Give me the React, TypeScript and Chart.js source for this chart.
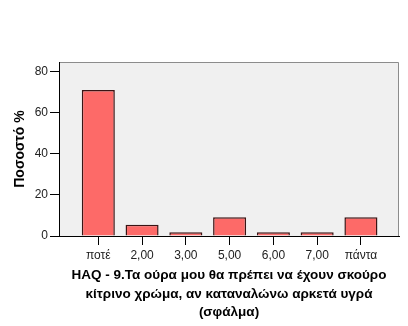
import React, { useEffect, useRef } from "react";
import { Chart, registerables } from "chart.js";

Chart.register(...registerables);

const categories = ["ποτέ", "2,00", "3,00", "5,00", "6,00", "7,00", "πάντα"];
const percents = [70.9, 5.5, 1.8, 9.1, 1.8, 1.8, 9.1];
const yTicks = [0, 20, 40, 60, 80];
const xTitle = [
  "HAQ - 9.Τα ούρα μου θα πρέπει να έχουν σκούρο",
  "κίτρινο χρώμα, αν καταναλώνω αρκετά υγρά",
  "(σφάλμα)",
];
const yTitle = "Ποσοστό %";

const FONT = "'Liberation Sans', Arial, sans-serif";

const plotBg = {
  id: "plotBg",
  beforeDraw(chart: any) {
    const { ctx, chartArea: a } = chart;
    ctx.save();
    ctx.fillStyle = "#f0f0f0";
    ctx.fillRect(a.left, a.top, a.right - a.left, a.bottom - a.top);
    ctx.strokeStyle = "#8c8c8c";
    ctx.lineWidth = 1;
    ctx.beginPath();
    ctx.moveTo(a.left, a.top + 0.5);
    ctx.lineTo(a.right - 0.5, a.top + 0.5);
    ctx.lineTo(a.right - 0.5, a.bottom);
    ctx.stroke();
    ctx.restore();
  },
};

export default function App() {
  const ref = useRef<HTMLCanvasElement>(null);
  useEffect(() => {
    document.body.style.margin = "0";
    const chart = new Chart(ref.current!, {
      type: "bar",
      data: {
        datasets: [
          {
            data: percents.map((v, i) => ({ x: i, y: v })),
            backgroundColor: "#fd6a68",
            borderColor: "#3a1414",
            borderWidth: 1.5,
            barPercentage: 0.755,
            categoryPercentage: 1,
          },
        ],
      },
      options: {
        responsive: false,
        animation: false,
        layout: { padding: { top: 62, right: 9, left: 0, bottom: 0 } },
        plugins: { legend: { display: false }, tooltip: { enabled: false } },
        scales: {
          x: {
            type: "linear",
            offset: false,
            min: -0.898,
            max: 6.87,
            afterBuildTicks: (s: any) => {
              s.ticks = categories.map((_, i) => ({ value: i }));
            },
            afterFit: (s: any) => {
              s.height = 90;
            },
            ticks: {
              callback: (v: any) => categories[v as number] ?? "",
              color: "#222",
              font: { family: FONT, size: 12 },
              padding: 3,
              maxRotation: 0,
              autoSkip: false,
            },
            grid: { offset: false, drawOnChartArea: false, drawTicks: true, tickLength: 9, color: "#000", lineWidth: 1 },
            border: { display: true, color: "#000", width: 1 },
            title: {
              display: true,
              text: xTitle,
              color: "#000",
              font: { family: FONT, size: 13.5, weight: "bold", lineHeight: 1.37 },
              padding: { top: 0, bottom: 4 },
            },
          },
          y: {
            min: 0,
            max: 84.5,
            afterBuildTicks: (s: any) => {
              s.ticks = yTicks.map((v) => ({ value: v }));
            },
            afterFit: (s: any) => {
              s.width = 59;
            },
            ticks: {
              color: "#222",
              font: { family: FONT, size: 12 },
              padding: 2,
            },
            grid: { drawOnChartArea: false, drawTicks: true, tickLength: 9, color: "#000", lineWidth: 1 },
            border: { display: true, color: "#000", width: 1 },
            title: {
              display: true,
              text: yTitle,
              color: "#000",
              font: { family: FONT, size: 14, weight: "bold", lineHeight: 1.2 },
              padding: { top: 12, bottom: 0 },
            },
          },
        },
      },
      plugins: [plotBg],
    });
    return () => chart.destroy();
  }, []);
  return <canvas ref={ref} width={408} height={326} style={{ display: "block" }} />;
}
